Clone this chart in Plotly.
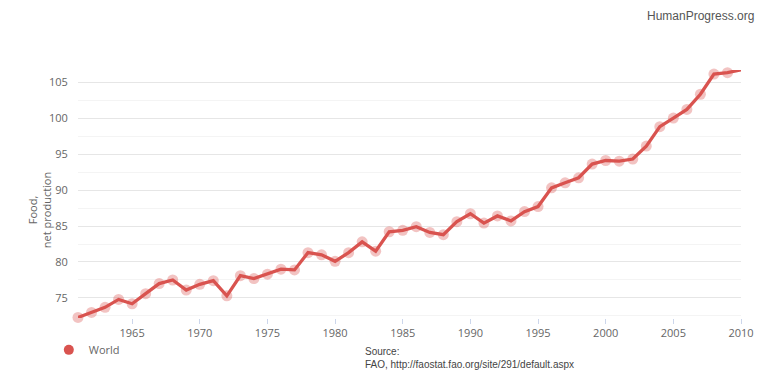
import plotly.graph_objects as go

years = list(range(1961, 2011))
food = [72.3, 73.0, 73.7, 74.8, 74.2, 75.6, 77.0, 77.5, 76.1, 76.9,
        77.4, 75.3, 78.1, 77.7, 78.3, 79.0, 78.9, 81.3, 81.0, 80.1,
        81.3, 82.8, 81.5, 84.2, 84.4, 84.9, 84.1, 83.8, 85.6, 86.7,
        85.4, 86.4, 85.7, 87.0, 87.7, 90.3, 91.0, 91.7, 93.6, 94.1,
        94.0, 94.3, 96.1, 98.8, 100.0, 101.2, 103.3, 106.1, 106.3, 106.7]
x_ticks = [1965, 1970, 1975, 1980, 1985, 1990, 1995, 2000, 2005, 2010]
y_ticks = [75, 80, 85, 90, 95, 100, 105]
series_name = "World"
y_title = "Food,<br>net production"

RED = "#d9534f"
fig = go.Figure()
fig.add_trace(go.Scatter(x=years, y=food, mode="markers", showlegend=False,
                         marker=dict(color="rgba(217,83,79,0.35)", size=11),
                         cliponaxis=False, hoverinfo="skip"))
fig.add_trace(go.Scatter(x=years, y=food, mode="lines", showlegend=False,
                         line=dict(color=RED, width=3.3), name=series_name,
                         cliponaxis=False))
fig.add_trace(go.Scatter(x=[None], y=[None], mode="markers", name=series_name,
                         marker=dict(color=RED, size=10)))

# page body has an 8px margin, so the figure is 8px smaller than the window
fig.update_layout(
    width=768, height=380,
    margin=dict(l=70, r=35, t=62, b=70, autoexpand=False),
    paper_bgcolor="white", plot_bgcolor="white",
    font=dict(family="Open Sans", size=11, color="#666"),
    xaxis=dict(range=[1961, 2010], tickvals=x_ticks, showgrid=False, zeroline=False,
               ticks="outside", ticklen=5, tickcolor="#ccd6eb", showline=False,
               automargin=False, tickfont=dict(size=11, color="#666")),
    yaxis=dict(range=[72.22, 106.67], tickvals=y_ticks, showgrid=True,
               gridcolor="#e6e6e6", gridwidth=1, zeroline=False, automargin=False,
               ticks="outside", ticklen=7, tickcolor="rgba(0,0,0,0)",
               minor=dict(tick0=77.5, dtick=5, showgrid=True, gridcolor="#f4f4f4"),
               tickfont=dict(size=11, color="#666")),
    legend=dict(x=-0.044, y=-0.07, xanchor="left", yanchor="top",
                font=dict(size=11, color="#666"), bgcolor="rgba(0,0,0,0)"),
    annotations=[
        dict(text=y_title, xref="paper", yref="paper", x=-0.0588, y=0.435,
             xanchor="center", yanchor="middle", textangle=-90, showarrow=False,
             font=dict(size=11, color="#666")),
        dict(text="HumanProgress.org", xref="paper", yref="paper", x=1.0215, y=1.25,
             xanchor="right", yanchor="top", showarrow=False, borderpad=0,
             font=dict(family="Liberation Sans", size=12, color="#555")),
        dict(text="Source:<br>FAO, http://faostat.fao.org/site/291/default.aspx",
             xref="paper", yref="paper", x=0.430, y=-0.106, xanchor="left", yanchor="top",
             align="left", showarrow=False,
             font=dict(family="Liberation Sans", size=10, color="#444")),
    ],
)

fig.write_html("out.html")
